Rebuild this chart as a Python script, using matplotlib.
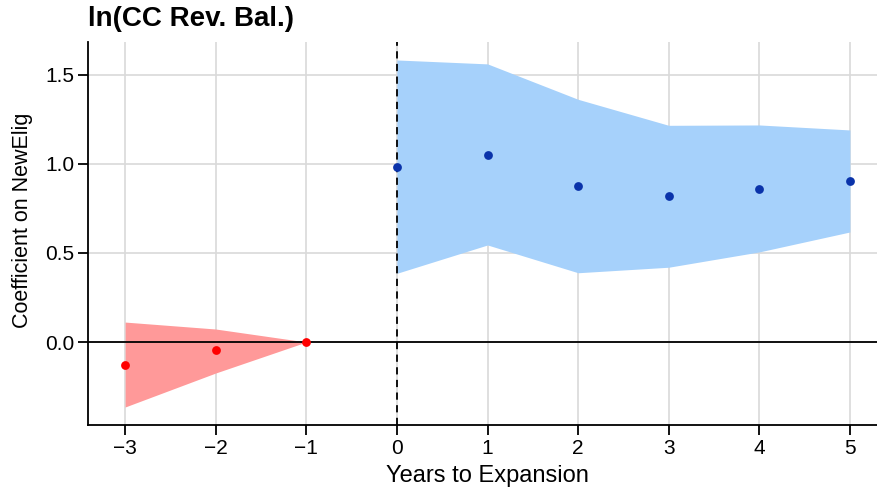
import matplotlib.pyplot as plt

plt.rcParams['font.family'] = ['Liberation Sans', 'DejaVu Sans']

# pre-period
pre_years = [-3, -2, -1]
pre_coef = [-0.129, -0.045, 0.0]
pre_lo = [-0.365, -0.174, 0.0]
pre_hi = [0.112, 0.073, 0.0]

# post-period
post_years = [0, 1, 2, 3, 4, 5]
post_coef = [0.985, 1.052, 0.876, 0.820, 0.861, 0.906]
post_lo = [0.386, 0.545, 0.389, 0.420, 0.506, 0.618]
post_hi = [1.584, 1.562, 1.363, 1.217, 1.219, 1.191]

fig = plt.figure(figsize=(8.78, 4.94), dpi=100)
ax = fig.add_axes([0.1002, 0.1397, 0.8998, 0.7753])

ax.fill_between(pre_years, pre_lo, pre_hi, color='#ff9999', lw=0, zorder=2)
ax.fill_between(post_years, post_lo, post_hi, color='#a6d1fb', lw=0, zorder=2)
ax.scatter(pre_years, pre_coef, color='#ff0000', s=40, lw=0, zorder=4)
ax.scatter(post_years, post_coef, color='#0a33aa', s=40, lw=0, zorder=4)

ax.axhline(0, color='black', lw=1.3, zorder=3)
ax.axvline(0, color='black', lw=1.3, ls=(0, (4, 3)), zorder=3)

ax.set_xlim(-3.41, 5.31)
ax.set_ylim(-0.466, 1.685)
ax.set_xticks(range(-3, 6))
ax.set_yticks([0.0, 0.5, 1.0, 1.5])
ax.set_yticklabels(['0.0', '0.5', '1.0', '1.5'])
ax.set_xticklabels(['\u22123', '\u22122', '\u22121', '0', '1', '2', '3', '4', '5'])
ax.grid(True, color='#d9d9d9', lw=1.2, zorder=0)
ax.set_axisbelow(True)

for s in ['top', 'right']:
    ax.spines[s].set_visible(False)
for s in ['left', 'bottom']:
    ax.spines[s].set_linewidth(1.3)
ax.tick_params(labelsize=15, width=1.3, length=7, pad=3, colors='black')

ax.set_xlabel('Years to Expansion', fontsize=17)
ax.set_ylabel('Coefficient on NewElig', fontsize=15.5)
ax.xaxis.set_label_coords(0.505, -0.105)
ax.yaxis.set_label_coords(-0.07, 0.535)
fig.text(0.1002, 0.935, 'ln(CC Rev. Bal.)', fontsize=20, fontweight='bold', ha='left', va='bottom')

plt.savefig('out.png')
